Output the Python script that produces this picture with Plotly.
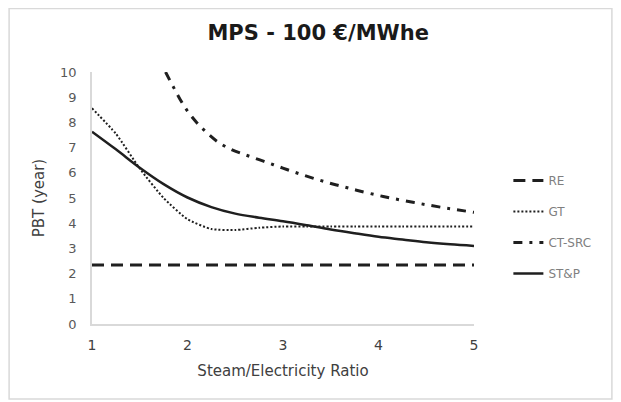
import plotly.graph_objects as go

# ---- data ----
x_common = [1, 1.25, 1.5, 1.75, 2, 2.25, 2.5, 2.75, 3, 3.25, 3.5, 3.75, 4, 4.25, 4.5, 4.75, 5]
re_vals = [2.34] * len(x_common)
gt_vals = [8.56, 7.55, 6.17, 5.0, 4.16, 3.77, 3.73, 3.82, 3.87, 3.87, 3.87, 3.87, 3.87, 3.87, 3.87, 3.87, 3.87]
stp_vals = [7.63, 6.93, 6.2, 5.55, 5.02, 4.64, 4.38, 4.22, 4.08, 3.92, 3.75, 3.6, 3.46, 3.35, 3.24, 3.16, 3.1]

x_ct = [1.77, 1.85, 1.92, 2.0, 2.1, 2.2, 2.32, 2.46, 2.6, 2.75, 2.9, 3.04, 3.18, 3.32, 3.47, 3.61, 3.77, 4.05, 4.36, 4.66, 5.0]
ct_vals = [10.0, 9.42, 8.93, 8.45, 7.98, 7.6, 7.22, 6.92, 6.72, 6.52, 6.32, 6.13, 5.95, 5.78, 5.61, 5.47, 5.31, 5.06, 4.83, 4.63, 4.43]

series_names = ["RE", "GT", "CT-SRC", "ST&P"]
x_ticks = [1, 2, 3, 4, 5]
y_ticks = list(range(0, 11))

title_text = "MPS - 100 €/MWhe"
x_title = "Steam/Electricity Ratio"
y_title = "PBT (year)"

# ---- figure ----
line_color = "#1f1f1f"
font_family = "DejaVu Sans, Liberation Sans, Arial, sans-serif"
fig = go.Figure()
fig.add_trace(go.Scatter(x=x_common, y=re_vals, name=series_names[0], mode="lines",
                         line=dict(color=line_color, width=3, dash="12px,7px"),
                         legendgroup="a"))
fig.add_trace(go.Scatter(x=x_common, y=gt_vals, name=series_names[1], mode="lines",
                         line=dict(color=line_color, width=2, dash="2px,2px", shape="spline", smoothing=0.6),
                         legendgroup="b"))
fig.add_trace(go.Scatter(x=x_ct, y=ct_vals, name=series_names[2], mode="lines",
                         line=dict(color=line_color, width=3, dash="9px,7px,3px,7px", shape="spline"),
                         legendgroup="c"))
fig.add_trace(go.Scatter(x=x_common, y=stp_vals, name=series_names[3], mode="lines",
                         line=dict(color=line_color, width=2.5, shape="spline"),
                         legendgroup="d"))

fig.update_layout(
    width=613, height=394,
    margin=dict(l=84, r=147, t=64, b=78),
    paper_bgcolor="white", plot_bgcolor="white",
    font=dict(family=font_family, color="#595959"),
    title=dict(text="<b>" + title_text + "</b>", xref="container", x=0.506, xanchor="center",
               yref="container", y=1 - 25 / 394, yanchor="middle",
               font=dict(size=21, color="#1a1a1a", family=font_family)),
    showlegend=True,
    legend=dict(x=1.09, xanchor="left", y=0.627, yanchor="top",
                font=dict(size=12, color="#7f7f7f", family=font_family),
                tracegroupgap=12, bgcolor="rgba(0,0,0,0)"),
    xaxis=dict(range=[1, 5], tickvals=x_ticks, showgrid=False, zeroline=False,
               showline=True, linecolor="#d9d9d9", linewidth=1.5,
               ticks="", ticklabelstandoff=7, tickfont=dict(size=14, color="#404040"),
               title=dict(text=x_title, font=dict(size=15, color="#404040"), standoff=14)),
    yaxis=dict(range=[0, 10], tickvals=y_ticks, showgrid=False, zeroline=False,
               showline=True, linecolor="#d9d9d9", linewidth=1.5,
               ticks="", ticklabelstandoff=11, tickfont=dict(size=13, color="#595959"),
               title=dict(text=y_title, font=dict(size=15, color="#404040"), standoff=12)),
    shapes=[dict(type="rect", xref="paper", yref="paper",
                 x0=-0.217, x1=1.361, y0=-0.298, y1=1.252,
                 line=dict(color="#d9d9d9", width=1.5), fillcolor="rgba(0,0,0,0)", layer="below")],
)

fig.write_html("out.html")
